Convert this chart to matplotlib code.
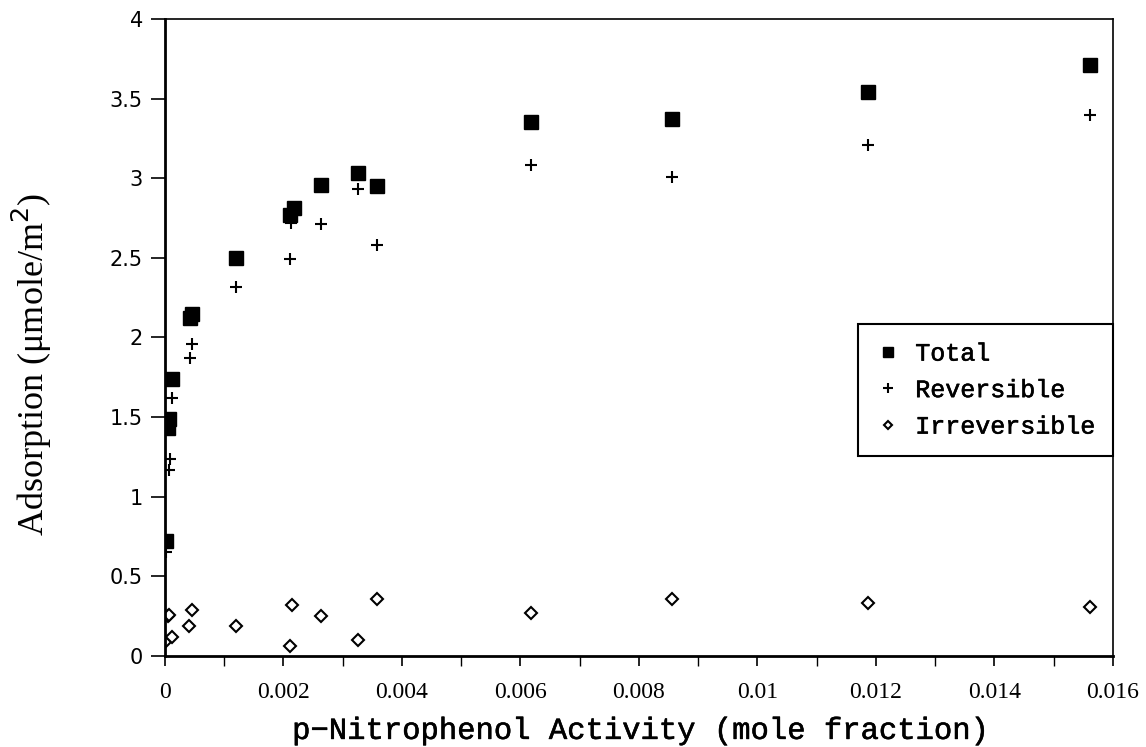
import matplotlib
matplotlib.use("Agg")
import matplotlib.pyplot as plt
import matplotlib.patheffects as pe
from matplotlib.ticker import MultipleLocator

# Data
total_x = [0.00002, 0.00005, 0.00007, 0.00012, 0.00042, 0.00045, 0.0012, 0.00211, 0.00217,
           0.00263, 0.00326, 0.00358, 0.00618, 0.00856, 0.01186, 0.01561]
total_y = [0.72, 1.43, 1.49, 1.74, 2.12, 2.15, 2.50, 2.77, 2.81,
           2.96, 3.03, 2.95, 3.35, 3.37, 3.54, 3.71]

rev_x = [0.00002, 0.00006, 0.00008, 0.00012, 0.00043, 0.00046, 0.0012, 0.00211, 0.00213,
         0.00263, 0.00326, 0.00358, 0.00618, 0.00856, 0.01186, 0.01561]
rev_y = [0.65, 1.17, 1.24, 1.62, 1.87, 1.96, 2.32, 2.49, 2.72,
         2.71, 2.93, 2.58, 3.08, 3.01, 3.21, 3.40]

irr_x = [0.00000, 0.00005, 0.00007, 0.00012, 0.00040, 0.00045, 0.0012, 0.00211, 0.00215,
         0.00263, 0.00326, 0.00358, 0.00618, 0.00856, 0.01186, 0.01561]
irr_y = [0.09, 0.25, 0.26, 0.12, 0.19, 0.29, 0.19, 0.06, 0.32,
         0.25, 0.10, 0.36, 0.27, 0.36, 0.33, 0.31]

x_ticks = [0, 0.002, 0.004, 0.006, 0.008, 0.01, 0.012, 0.014, 0.016]
x_tick_labels = ["0", "0.002", "0.004", "0.006", "0.008", "0.01", "0.012", "0.014", "0.016"]
y_ticks = [0, 0.5, 1, 1.5, 2, 2.5, 3, 3.5, 4]
y_tick_labels = ["0", "0.5", "1", "1.5", "2", "2.5", "3", "3.5", "4"]

thicken = [pe.withStroke(linewidth=0.4, foreground="black")]

fig = plt.figure(figsize=(11.46, 7.47), dpi=100)
ax = fig.add_axes([0.144, 0.1218, 0.827, 0.8528])

ax.plot(total_x, total_y, linestyle="none", marker="s", markersize=9.5,
        color="black", label="Total")
ax.plot(rev_x, rev_y, linestyle="none", marker="+", markersize=9, markeredgewidth=1.5,
        color="black", label="Reversible")
ax.plot(irr_x, irr_y, linestyle="none", marker="D", markersize=6, markeredgewidth=1.5,
        markerfacecolor="white", color="black", label="Irreversible")

ax.set_xlim(0, 0.016)
ax.set_ylim(0, 4)

ax.set_xticks(x_ticks)
ax.set_xticklabels(x_tick_labels, fontfamily="Liberation Serif", fontsize=17)
ax.xaxis.set_minor_locator(MultipleLocator(0.001))
ax.set_yticks(y_ticks)
ax.set_yticklabels(y_tick_labels, fontfamily="DejaVu Sans", fontsize=15)

ax.tick_params(axis="x", which="major", direction="out", length=7, width=1.2, pad=12)
ax.tick_params(axis="x", which="minor", direction="out", length=7, width=1.0)
ax.tick_params(axis="y", which="major", direction="out", length=10, width=1.2, pad=6)

for side in ["left", "bottom"]:
    ax.spines[side].set_linewidth(2.0)
for side in ["top", "right"]:
    ax.spines[side].set_linewidth(1.2)

xl = ax.set_xlabel("p\u2212Nitrophenol Activity (mole fraction)", fontfamily="Liberation Mono",
                   fontsize=22, labelpad=9)
xl.set_path_effects(thicken)
ax.set_ylabel("Adsorption (\u03bcmole/m$^2$)", fontfamily="Liberation Serif",
              fontsize=26)
ax.yaxis.set_label_coords(-0.117, 0.457)

leg = ax.legend(loc="upper right", bbox_to_anchor=(1.0, 0.521), borderaxespad=0,
                frameon=True, fancybox=False, edgecolor="black", framealpha=1,
                prop={"family": "Liberation Mono", "size": 18},
                handlelength=1.0, handletextpad=0.6, borderpad=0.7, labelspacing=0.5,
                markerscale=0.75)
leg.get_frame().set_linewidth(1.5)
for t in leg.get_texts():
    t.set_path_effects(thicken)

fig.savefig("out.png", dpi=100)
